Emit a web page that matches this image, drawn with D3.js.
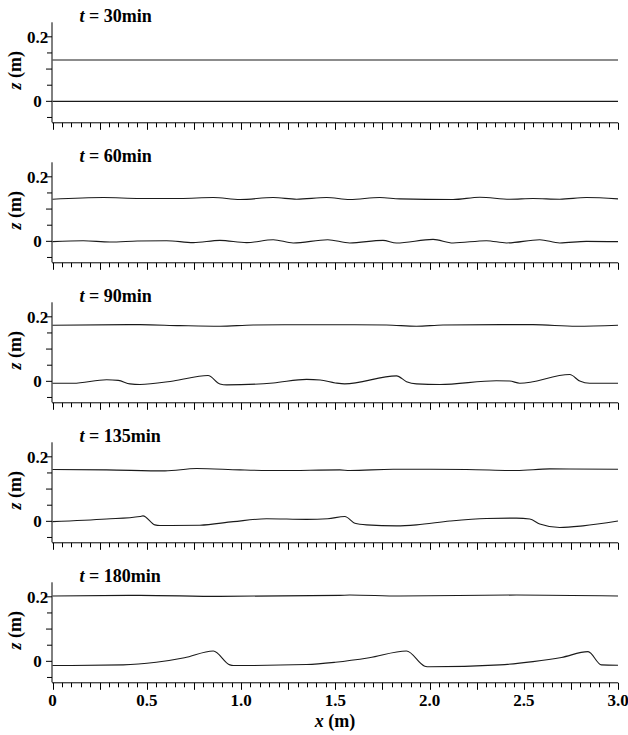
<!DOCTYPE html>
<html>
<head>
<meta charset="utf-8">
<script src="https://cdn.jsdelivr.net/npm/d3@7"></script>
<style>
  html, body { margin: 0; padding: 0; background: #fff; }
  svg { display: block; }
  text { font-family: "Liberation Serif", "Times New Roman", serif; font-weight: bold; fill: #000; }
</style>
</head>
<body>
<svg id="chart" width="628" height="735"></svg>
<script>
// Snapshot times (min) for each stacked panel
const times = [30, 60, 90, 135, 180];

// Upper line (water surface) and lower line (bed profile) per snapshot, as [x (m), z (m)]
const surface30 = [[0, 0.128], [3.0, 0.128]];
const bed30 = [[0, 0.0], [3.0, 0.0]];

const surface60 = [[0, 0.1306], [0.27, 0.1357], [0.464, 0.1327], [0.676, 0.1327], [0.853, 0.1357],
  [0.995, 0.1296], [1.171, 0.1357], [1.295, 0.1306], [1.454, 0.1357], [1.577, 0.1296], [1.736, 0.1357],
  [1.842, 0.1316], [2.125, 0.1296], [2.267, 0.1368], [2.426, 0.1306], [2.549, 0.1327], [2.691, 0.1306],
  [2.832, 0.1357], [3.0, 0.1316]];
const bed60 = [[0, -0.001], [0.163, 0.002], [0.305, -0.002], [0.45, 0.001], [0.605, 0.002], [0.747, -0.004],
  [0.888, 0.003], [1.03, -0.004], [1.171, 0.005], [1.277, -0.005], [1.46, 0.005], [1.577, -0.005],
  [1.753, 0.003], [1.825, -0.005], [2.019, 0.006], [2.125, -0.005], [2.302, 0.002], [2.408, -0.005],
  [2.585, 0.005], [2.691, -0.005], [2.832, 0.0], [3.0, -0.001]];

const surface90 = [[0, 0.1738], [0.464, 0.1758], [0.676, 0.1727], [0.888, 0.1707], [1.065, 0.1748],
  [1.5, 0.1755], [1.772, 0.1748], [1.931, 0.1707], [2.072, 0.1748], [2.549, 0.1758], [2.779, 0.1707],
  [3.0, 0.1738]];
const bed90 = [[0, -0.006], [0.11, -0.006], [0.287, 0.005], [0.349, 0.003], [0.411, -0.008], [0.464, -0.010],
  [0.641, 0.001], [0.825, 0.018], [0.888, -0.008], [0.924, -0.011], [1.171, -0.005], [1.348, 0.006],
  [1.42, 0.004], [1.50, -0.005], [1.55, -0.008], [1.825, 0.017], [1.878, -0.001], [1.931, -0.008],
  [2.055, -0.010], [2.355, 0.002], [2.426, 0.001], [2.479, -0.006], [2.744, 0.021], [2.797, 0.001],
  [2.85, -0.006], [3.0, -0.006]];

const surface135 = [[0, 0.1605], [0.287, 0.1595], [0.597, 0.1564], [0.764, 0.1636], [0.994, 0.1595],
  [1.206, 0.1574], [1.524, 0.1595], [1.577, 0.1574], [1.807, 0.1615], [2.196, 0.1605], [2.461, 0.1574],
  [2.638, 0.1625], [3.0, 0.1615]];
const bed135 = [[0, -0.001], [0.287, 0.007], [0.464, 0.015], [0.48, 0.017], [0.543, -0.011], [0.57, -0.013],
  [0.782, -0.012], [0.959, -0.001], [1.136, 0.008], [1.348, 0.006], [1.46, 0.008], [1.551, 0.015],
  [1.604, -0.006], [1.666, -0.011], [1.825, -0.014], [1.931, -0.011], [2.108, 0.001], [2.302, 0.009],
  [2.461, 0.010], [2.532, 0.007], [2.585, -0.008], [2.691, -0.019], [2.814, -0.014], [3.0, 0.001]];

const surface180 = [[0, 0.2025], [0.464, 0.2045], [0.888, 0.2014], [1.524, 0.2045], [1.577, 0.2056],
  [1.842, 0.2025], [2.461, 0.2056], [3.0, 0.2025]];
const bed180 = [[0, -0.013], [0.375, -0.011], [0.55, -0.003], [0.70, 0.011], [0.853, 0.032], [0.941, -0.011],
  [0.959, -0.013], [1.348, -0.010], [1.5, -0.003], [1.68, 0.011], [1.878, 0.032], [1.975, -0.015],
  [2.0, -0.017], [2.373, -0.011], [2.549, -0.001], [2.70, 0.012], [2.841, 0.030], [2.912, -0.011],
  [3.0, -0.012]];

const surfaces = [surface30, surface60, surface90, surface135, surface180];
const beds = [bed30, bed60, bed90, bed135, bed180];

// Axis ticks and labels
const xTickLabels = ["0", "0.5", "1.0", "1.5", "2.0", "2.5", "3.0"];
const yTickLabels = ["0", "0.2"];

const svg = d3.select("#chart");
const x = d3.scaleLinear().domain([0, 3]).range([52.5, 618]);
const panelStep = 140;
const panelTop = 22.3, panelBottom = 122.3;

const line = (y) => d3.line()
  .x(d => x(d[0]))
  .y(d => y(d[1]))
  .curve(d3.curveMonotoneX);

times.forEach((t, i) => {
  const g = svg.append("g").attr("transform", `translate(0,${i * panelStep})`);
  const y = d3.scaleLinear().domain([-0.065, 0.245]).range([panelBottom, panelTop]);

  // y axis: line, ticks every 0.05, labels at 0 and 0.2
  g.append("line").attr("x1", x(0) - 0.5).attr("x2", x(0) - 0.5)
    .attr("y1", panelTop).attr("y2", panelBottom)
    .attr("stroke", "#000").attr("stroke-width", 1);
  const yTicks = d3.range(-0.05, 0.2001, 0.05).map(v => +v.toFixed(2));
  g.selectAll(".ytick").data(yTicks).join("line")
    .attr("x1", x(0) - 0.5).attr("x2", d => x(0) - 0.5 - (Math.abs(d % 0.1) < 1e-6 ? 6 : 5))
    .attr("y1", d => y(d)).attr("y2", d => y(d))
    .attr("stroke", "#000").attr("stroke-width", 1);
  g.selectAll(".ylab").data(yTickLabels).join("text")
    .attr("x", 37.5).attr("y", d => y(+d))
    .attr("dy", "0.35em").attr("text-anchor", "middle")
    .attr("font-size", 17).text(d => d);

  // x axis: baseline, minor ticks every 0.05, major every 0.25
  g.append("line").attr("x1", x(0) - 0.5).attr("x2", x(3))
    .attr("y1", panelBottom + 0.5).attr("y2", panelBottom + 0.5)
    .attr("stroke", "#000").attr("stroke-width", 1);
  const xTicks = d3.range(0, 60.5, 1).map(k => k * 0.05);
  g.selectAll(".xtick").data(xTicks).join("line")
    .attr("x1", d => Math.round(x(d)) + 0.5).attr("x2", d => Math.round(x(d)) + 0.5)
    .attr("y1", panelBottom + 0.5)
    .attr("y2", (d, k) => panelBottom + 0.5 + (k % 5 === 0 ? 7 : 4.5))
    .attr("stroke", "#000").attr("stroke-width", 1);

  // y-axis title
  const zl = g.append("text")
    .attr("transform", `translate(21,${(panelTop + panelBottom) / 2 - 2}) rotate(-90)`)
    .attr("text-anchor", "middle").attr("font-size", 18);
  zl.append("tspan").attr("font-style", "italic").text("z");
  zl.append("tspan").text(" (m)");

  // panel title
  const tl = g.append("text").attr("x", 79.5).attr("y", 21.5).attr("font-size", 18);
  tl.append("tspan").attr("font-style", "italic").text("t");
  tl.append("tspan").text(` = ${t}min`);

  // profiles
  [surfaces[i], beds[i]].forEach(series => {
    g.append("path").datum(series)
      .attr("d", line(y))
      .attr("fill", "none").attr("stroke", "#1a1a1a").attr("stroke-width", 1.1);
  });

  // tick labels and x title on the bottom panel only
  if (i === times.length - 1) {
    g.selectAll(".xlab").data(xTickLabels).join("text")
      .attr("x", d => x(+d)).attr("y", panelBottom + 23.2)
      .attr("text-anchor", "middle").attr("font-size", 17).text(d => d);
    const xl = g.append("text").attr("x", 335).attr("y", panelBottom + 44.5)
      .attr("text-anchor", "middle").attr("font-size", 18);
    xl.append("tspan").attr("font-style", "italic").text("x");
    xl.append("tspan").text(" (m)");
  }
});
</script>
</body>
</html>
